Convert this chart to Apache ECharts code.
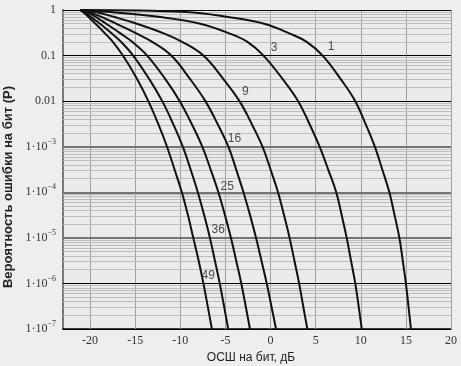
<!DOCTYPE html>
<html>
<head>
<meta charset="utf-8">
<script type="text/javascript" src="https://cdn.jsdelivr.net/npm/echarts@6/dist/echarts.min.js"></script>
<title>Вероятность ошибки на бит</title>
</head>
<body style="margin:0;background:#eeeeee">
<div id="container" style="width:461px;height:366px;"></div>
<script type="text/javascript">
// уровни вероятности ошибки (P), на которых сняты точки кривых
var berLevels = [1, 0.9, 0.7, 0.5, 0.3, 0.2, 0.1, 0.03, 0.01, 3e-3, 1e-3, 3e-4, 1e-4, 3e-5, 1e-5, 3e-6, 1e-6, 3e-7, 1e-7];

// ОСШ на бит (дБ), при котором каждая кривая достигает этих уровней
var snr1  = [-21.1, -9.4, -4.7, -0.7, 2.2, 4.0, 5.78, 7.8, 9.39, 10.58, 11.56, 12.42, 13.17, 13.77, 14.28, 14.67, 15.0, 15.3, 15.56];
var snr3  = [-21.1, -17.78, -12.22, -7.78, -4.44, -2.56, -0.78, 1.37, 3.06, 4.37, 5.44, 6.43, 7.28, 7.91, 8.44, 8.94, 9.39, 9.78, 10.11];
var snr9  = [-21.1, -19.4, -17.3, -14.8, -11.7, -9.8, -7.44, -5.2, -3.44, -2.03, -0.89, 0.04, 0.83, 1.52, 2.11, 2.67, 3.17, 3.64, 4.08];
var snr16 = [-21.1, -20.11, -18.67, -17.11, -14.78, -13.11, -11.0, -8.89, -7.22, -5.81, -4.67, -3.77, -3.0, -2.24, -1.61, -0.98, -0.42, 0.12, 0.61];
var snr25 = [-21.1, -20.33, -19.33, -18.22, -16.56, -15.33, -13.67, -11.64, -10.06, -8.68, -7.56, -6.6, -5.78, -5.02, -4.39, -3.78, -3.24, -2.73, -2.28];
var snr36 = [-21.1, -20.67, -19.89, -18.89, -17.56, -16.56, -15.22, -13.42, -12.0, -10.74, -9.72, -8.82, -8.06, -7.33, -6.72, -6.14, -5.63, -5.13, -4.69];
var snr49 = [-21.1, -20.78, -20.17, -19.39, -18.3, -17.48, -16.36, -14.76, -13.54, -12.4, -11.47, -10.6, -9.83, -9.13, -8.56, -7.94, -7.44, -6.94, -6.5];

var curveNames = ['1', '3', '9', '16', '25', '36', '49'];
var curveSnr = [snr1, snr3, snr9, snr16, snr25, snr36, snr49];

// подписи кривых
var labelSnr = [6.7, 0.4, -2.8, -4.0, -4.8, -5.8, -6.9];
var labelBer = [0.154, 0.146, 0.0159, 1.48e-3, 1.3e-4, 1.48e-5, 1.5e-6];

// деления осей
var xTicks = [-20, -15, -10, -5, 0, 5, 10, 15, 20];
var yTicks = [1, 0.1, 0.01, 1e-3, 1e-4, 1e-5, 1e-6, 1e-7];

var myChart = echarts.init(document.getElementById('container'));

// линии сетки: декады и промежуточные значения 2..9
var gridLines = [];
xTicks.forEach(function (v) {
    gridLines.push({ xAxis: v, lineStyle: { color: '#a0a0a0', width: 1, type: 'solid' } });
});
for (var k = 1; k <= 7; k++) {
    for (var m = 2; m <= 9; m++) {
        gridLines.push({ yAxis: m * Math.pow(10, -k), lineStyle: { color: '#bdbdbd', width: 1, type: 'solid' } });
    }
}
yTicks.forEach(function (v) {
    var e = Math.round(Math.log10(v));
    var grey = (e <= -3 && e >= -5);
    gridLines.push({ yAxis: v, lineStyle: { color: grey ? '#747474' : '#000', width: grey ? 2 : 1.2, type: 'solid' } });
});

var series = [{
    type: 'line',
    data: [],
    silent: true,
    markLine: {
        silent: true,
        symbol: 'none',
        animation: false,
        precision: 12,
        z: 1,
        label: { show: false },
        data: gridLines
    }
}];

curveNames.forEach(function (name, i) {
    series.push({
        name: name,
        type: 'line',
        smooth: 0.4,
        showSymbol: false,
        z: 3,
        lineStyle: { color: '#111', width: 2 },
        data: berLevels.map(function (p, j) { return [curveSnr[i][j], p]; })
    });
});

series.push({
    type: 'scatter',
    symbolSize: 1,
    itemStyle: { color: 'rgba(0,0,0,0)' },
    z: 4,
    label: {
        show: true,
        position: 'inside',
        formatter: function (p) { return p.name; },
        fontFamily: 'Liberation Sans',
        fontSize: 12,
        color: '#222'
    },
    data: curveNames.map(function (name, i) {
        return { name: name, value: [labelSnr[i], labelBer[i]] };
    })
});

var option = {
    animation: false,
    backgroundColor: '#eeeeee',
    grid: {
        left: 63, right: 10, top: 10, bottom: 37,
        outerBoundsMode: 'none',
        containLabel: false,
        backgroundColor: '#ebebeb', show: true, borderWidth: 0
    },
    xAxis: {
        type: 'value',
        min: -23,
        max: 20,
        name: 'ОСШ на бит, дБ',
        nameLocation: 'middle',
        nameGap: 21,
        nameTextStyle: { fontFamily: 'Liberation Sans', fontSize: 12, color: '#222', padding: [0, 12, 0, 0] },
        axisLine: { onZero: false, lineStyle: { color: '#000', width: 1.5 } },
        axisTick: { show: false },
        splitLine: { show: false },
        axisLabel: {
            customValues: xTicks,
            fontFamily: 'Liberation Serif',
            fontSize: 12,
            color: '#333',
            margin: 6
        }
    },
    yAxis: {
        type: 'log',
        logBase: 10,
        min: 1e-7,
        max: 1,
        splitNumber: 7,
        name: 'Вероятность ошибки на бит (P)',
        nameLocation: 'middle',
        nameGap: 38,
        nameTextStyle: { fontFamily: 'Liberation Sans', fontSize: 13, fontWeight: 'bold', color: '#222', padding: [0, 35, 0, 0] },
        axisLine: { show: true, onZero: false, lineStyle: { color: '#777', width: 2 } },
        axisTick: { show: false },
        splitLine: { show: false },
        axisLabel: {
            margin: 7,
            color: '#333',
            fontFamily: 'Liberation Serif',
            fontSize: 12,
            formatter: function (v) {
                var e = Math.round(Math.log10(v));
                if (e >= -2) return ['1', '0.1', '0.01'][-e];
                return '{m|1·10}{s|−' + (-e) + '}';
            },
            rich: {
                m: { fontFamily: 'Liberation Serif', fontSize: 12, color: '#333' },
                s: { fontFamily: 'Liberation Serif', fontSize: 8, color: '#333', padding: [0, 0, 10, 0] }
            }
        }
    },
    series: series
};

myChart.setOption(option);
</script>
</body>
</html>
